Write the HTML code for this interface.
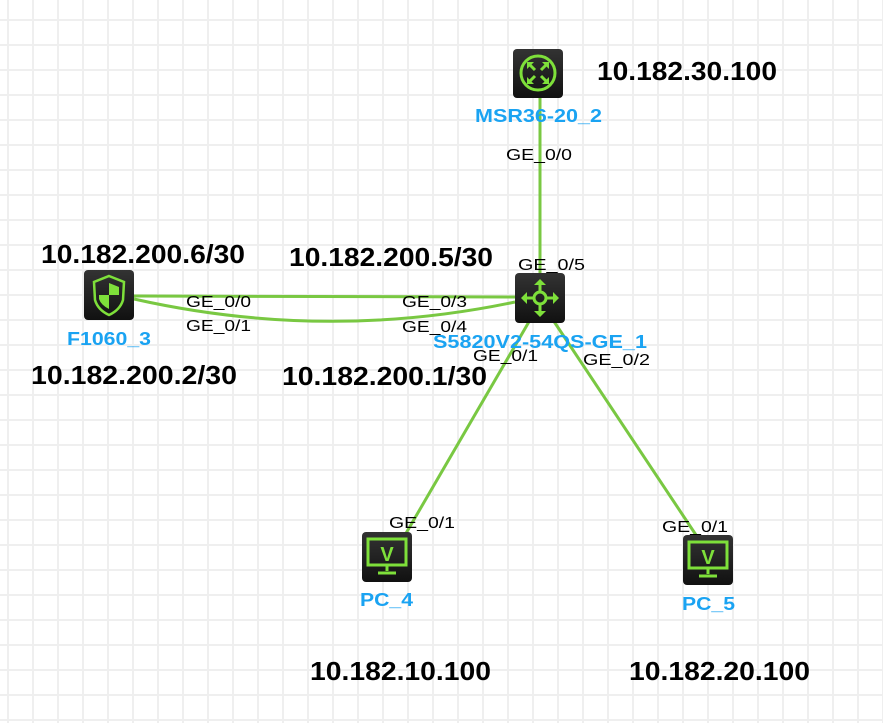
<!DOCTYPE html>
<html><head><meta charset="utf-8"><style>
html,body{margin:0;padding:0;background:#fff;width:883px;height:723px;overflow:hidden}
svg{display:block}
.ip{font:bold 26px "Liberation Sans",sans-serif;fill:#000}
.bl{font:bold 18px "Liberation Sans",sans-serif;fill:#1aa3f2}
.ge{font:16px "Liberation Sans",sans-serif;fill:#000}
</style></head><body>
<svg width="883" height="723" xmlns="http://www.w3.org/2000/svg">
<defs>
<pattern id="g" x="7" y="19" width="25" height="25" patternUnits="userSpaceOnUse">
<rect x="0" y="0" width="2" height="25" fill="#efefef"/><rect x="0" y="0" width="25" height="2" fill="#efefef"/>
</pattern>
<linearGradient id="bx" x1="0" y1="0" x2="0" y2="1"><stop offset="0" stop-color="#333"/><stop offset="1" stop-color="#111"/></linearGradient>
</defs>
<rect width="883" height="723" fill="url(#g)"/>
<g stroke="#79c842" stroke-width="3" fill="none">
<line x1="540" y1="98" x2="540" y2="273"/>
<line x1="134" y1="296" x2="515" y2="297"/>
<path d="M134 299 Q325 342 515 302"/>
<line x1="530" y1="320" x2="405" y2="535"/>
<line x1="553" y1="320" x2="698" y2="538"/>
</g>
<!-- router -->
<rect x="513" y="49" width="50" height="49" rx="4" fill="url(#bx)"/>
<circle cx="538" cy="73" r="17" stroke="#7ee03a" stroke-width="3" fill="none"/>
<g stroke="#7ee03a" stroke-width="3" fill="none"><path d="M530 65 L535 70 M546 65 L541 70 M530 81 L535 76 M546 81 L541 76"/></g>
<g fill="#7ee03a"><path d="M527 62h7l-7 7z M549 62h-7l7 7z M527 84h7l-7-7z M549 84h-7l7-7z"/></g>
<!-- switch -->
<rect x="515" y="273" width="50" height="50" rx="4" fill="url(#bx)"/>
<g stroke="#7ee03a" stroke-width="3" fill="none"><circle cx="540" cy="298" r="6"/><path d="M540 282V292M540 304V314M524 298H534M546 298H556"/></g>
<g fill="#7ee03a"><path d="M540 279l-6 6h12z M540 317l-6-6h12z M521 298l6-6v12z M559 298l-6-6v12z"/></g>
<!-- firewall -->
<rect x="84" y="270" width="50" height="50" rx="4" fill="url(#bx)"/>
<path d="M109 276 L124 282 L123 300 Q120 310 109 315 Q98 310 95 300 L94 282 Z" stroke="#7ee03a" stroke-width="2.5" fill="none"/>
<path d="M109 283 L119 287 L119 295 L109 295Z M99 295 L109 295 L109 309 Q101 305 99 299Z" fill="#7ee03a"/>
<!-- PCs -->
<g id="pc">
<rect x="362" y="532" width="50" height="50" rx="4" fill="url(#bx)"/>
<rect x="368" y="539" width="38" height="26" stroke="#7ee03a" stroke-width="3" fill="none"/>
<text x="387" y="561" text-anchor="middle" style="font:bold 20px 'Liberation Sans',sans-serif;fill:#7ee03a">V</text>
<path d="M387 566V571M378 573H396" stroke="#7ee03a" stroke-width="3"/>
</g>
<use href="#pc" transform="translate(321,3)"/>
<!-- IP labels -->
<g lengthAdjust="spacingAndGlyphs">
<text class="ip" x="597" y="80" textLength="180" lengthAdjust="spacingAndGlyphs">10.182.30.100</text>
<text class="ip" x="41" y="263" textLength="204" lengthAdjust="spacingAndGlyphs">10.182.200.6/30</text>
<text class="ip" x="289" y="266" textLength="204" lengthAdjust="spacingAndGlyphs">10.182.200.5/30</text>
<text class="ip" x="31" y="384" textLength="206" lengthAdjust="spacingAndGlyphs">10.182.200.2/30</text>
<text class="ip" x="282" y="385" textLength="205" lengthAdjust="spacingAndGlyphs">10.182.200.1/30</text>
<text class="ip" x="310" y="680" textLength="181" lengthAdjust="spacingAndGlyphs">10.182.10.100</text>
<text class="ip" x="629" y="680" textLength="181" lengthAdjust="spacingAndGlyphs">10.182.20.100</text>
<!-- blue -->
<text class="bl" x="475" y="122" textLength="127" lengthAdjust="spacingAndGlyphs">MSR36-20_2</text>
<text class="bl" x="67" y="345" textLength="84" lengthAdjust="spacingAndGlyphs">F1060_3</text>
<text class="bl" x="433" y="348" textLength="214" lengthAdjust="spacingAndGlyphs">S5820V2-54QS-GE_1</text>
<text class="bl" x="360" y="606" textLength="53" lengthAdjust="spacingAndGlyphs">PC_4</text>
<text class="bl" x="682" y="610" textLength="53" lengthAdjust="spacingAndGlyphs">PC_5</text>
<!-- ports -->
<text class="ge" x="506" y="160" textLength="66" lengthAdjust="spacingAndGlyphs">GE_0/0</text>
<text class="ge" x="518" y="270" textLength="67" lengthAdjust="spacingAndGlyphs">GE_0/5</text>
<text class="ge" x="186" y="307" textLength="65" lengthAdjust="spacingAndGlyphs">GE_0/0</text>
<text class="ge" x="186" y="331" textLength="65" lengthAdjust="spacingAndGlyphs">GE_0/1</text>
<text class="ge" x="402" y="307" textLength="65" lengthAdjust="spacingAndGlyphs">GE_0/3</text>
<text class="ge" x="402" y="332" textLength="65" lengthAdjust="spacingAndGlyphs">GE_0/4</text>
<text class="ge" x="473" y="361" textLength="65" lengthAdjust="spacingAndGlyphs">GE_0/1</text>
<text class="ge" x="583" y="365" textLength="67" lengthAdjust="spacingAndGlyphs">GE_0/2</text>
<text class="ge" x="389" y="528" textLength="66" lengthAdjust="spacingAndGlyphs">GE_0/1</text>
<text class="ge" x="662" y="532" textLength="66" lengthAdjust="spacingAndGlyphs">GE_0/1</text>
</g>
</svg>
</body></html>
